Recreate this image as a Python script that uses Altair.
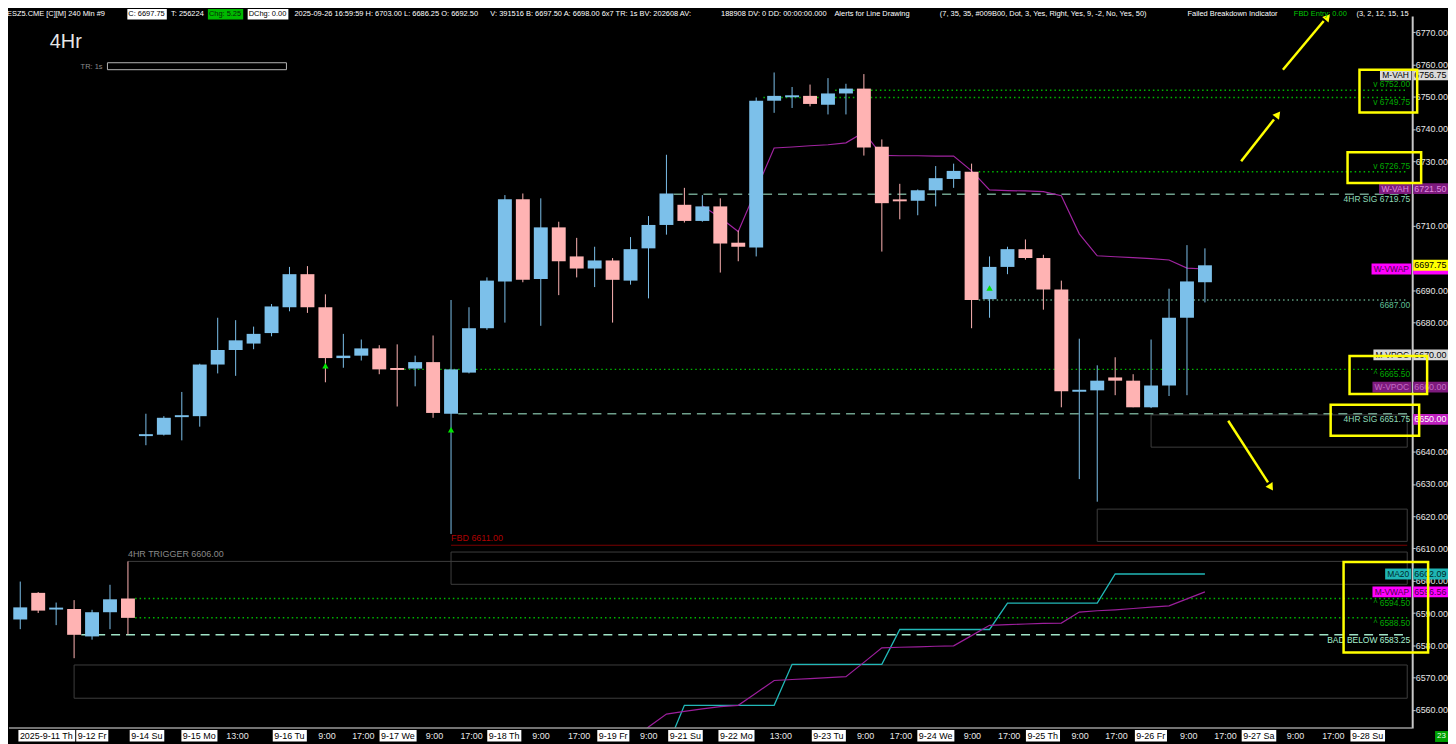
import altair as alt
import numpy as np
import pandas as pd

# ---------------- candle data (4-hour bars, index 0 = first bar on screen) ----------------
OPEN = [6588.0, 6596.25, 6591.25, 6591.25, 6582.75, 6590.25, 6594.5,
        6645.0, 6645.25, 6650.75, 6651.0, 6667.0, 6671.5, 6673.5, 6676.75, 6684.75, 6695.0,
        6684.75, 6669.0, 6669.75, 6672.0, 6665.75, 6665.75, 6667.75, 6651.75, 6664.5, 6678.25,
        6692.75, 6718.25, 6693.5, 6709.5, 6700.5, 6696.75, 6699.25, 6693.0, 6703.0, 6710.25,
        6716.5, 6711.5, 6716.0, 6704.75, 6703.25, 6748.75, 6750.0, 6750.25, 6747.5, 6751.0,
        6752.5, 6734.5, 6718.0, 6717.75, 6721.0, 6724.5, 6726.75, 6687.25, 6697.25, 6702.75,
        6700.0, 6690.25, 6658.75, 6659.0, 6663.0, 6662.0, 6653.75, 6660.5, 6681.5, 6692.5]
HIGH = [6599.75, 6596.5, 6593.25, 6594.0, 6591.0, 6598.75, 6606.0,
        6651.75, 6651.0, 6658.5, 6667.25, 6681.5, 6680.75, 6678.75, 6685.75, 6697.25, 6697.5,
        6688.75, 6676.5, 6674.75, 6673.0, 6673.25, 6669.75, 6676.0, 6687.0, 6684.75, 6694.0,
        6719.5, 6720.0, 6718.5, 6711.25, 6706.25, 6703.5, 6700.0, 6706.5, 6713.0, 6732.0,
        6721.75, 6719.5, 6718.5, 6708.5, 6749.75, 6757.5, 6753.0, 6753.75, 6755.75, 6754.0,
        6757.0, 6736.75, 6723.0, 6721.25, 6728.5, 6729.25, 6729.25, 6700.5, 6703.5, 6705.75,
        6701.0, 6693.0, 6675.0, 6666.75, 6669.25, 6664.0, 6674.75, 6690.5, 6704.0, 6703.0]
LOW = [6585.0, 6590.0, 6586.25, 6576.0, 6581.75, 6585.0, 6583.25,
       6642.0, 6645.0, 6643.5, 6647.75, 6664.25, 6663.5, 6671.75, 6675.75, 6683.5, 6683.0,
       6661.5, 6666.0, 6668.25, 6664.0, 6654.0, 6660.25, 6650.5, 6614.5, 6664.25, 6677.75,
       6680.0, 6692.5, 6679.0, 6688.5, 6694.0, 6691.0, 6680.0, 6691.75, 6687.5, 6707.25,
       6711.0, 6711.25, 6695.5, 6699.0, 6700.5, 6745.0, 6746.5, 6747.0, 6744.5, 6744.5,
       6731.75, 6702.0, 6712.0, 6713.25, 6716.0, 6721.75, 6678.25, 6681.5, 6695.0, 6699.5,
       6684.0, 6653.75, 6631.5, 6624.5, 6657.5, 6653.75, 6653.5, 6657.25, 6657.5, 6686.25]
CLOSE = [6591.75, 6590.75, 6591.5, 6583.25, 6590.25, 6594.25, 6588.5,
         6645.25, 6650.5, 6651.25, 6667.0, 6671.5, 6674.5, 6676.5, 6685.0, 6695.0, 6684.75,
         6669.0, 6669.75, 6672.0, 6665.5, 6665.5, 6667.75, 6652.0, 6665.5, 6678.25, 6693.0,
         6718.25, 6693.25, 6709.5, 6699.0, 6696.75, 6699.25, 6693.25, 6702.75, 6710.25, 6720.0,
         6711.5, 6716.0, 6704.5, 6703.5, 6748.75, 6750.25, 6750.25, 6747.75, 6751.0, 6752.5,
         6734.25, 6717.0, 6717.75, 6721.0, 6724.75, 6727.0, 6687.0, 6697.25, 6702.75, 6700.0,
         6690.25, 6658.75, 6659.0, 6662.0, 6662.0, 6653.75, 6660.5, 6681.5, 6692.75, 6697.75]

# ---------------- study lines ----------------
WVWAP_START = 38
WVWAP = [6716.2, 6712.5, 6708.2, 6721.2, 6734.1, 6734.4, 6734.8, 6735.1, 6735.7, 6739.0,
         6731.8, 6731.7, 6731.7, 6731.6, 6731.6, 6727.0, 6721.1, 6720.9, 6720.8, 6720.6,
         6719.3, 6707.5, 6700.7, 6700.4, 6700.1, 6699.8, 6699.4, 6696.9, 6696.6]
MA20_START = 36
MA20 = [6548.0, 6561.4, 6561.4, 6561.4, 6561.4, 6561.4, 6561.4,
        6574.1, 6574.1, 6574.1, 6574.1, 6574.1, 6574.1,
        6584.9, 6584.9, 6584.9, 6584.9, 6584.9, 6584.9,
        6593.1, 6593.1, 6593.1, 6593.1, 6593.1, 6593.1,
        6602.09, 6602.09, 6602.09, 6602.09, 6602.09, 6602.09]
MVWAP_START = 34
MVWAP = [6549.0, 6554.7, 6558.7, 6559.5, 6560.3, 6561.0, 6561.4, 6565.2, 6569.1, 6569.4,
         6569.7, 6570.0, 6570.3, 6574.7, 6579.2, 6579.4, 6579.5, 6579.7, 6579.85, 6583.0,
         6586.2, 6586.4, 6586.6, 6586.8, 6586.9, 6590.3, 6590.7, 6591.0, 6591.4, 6591.8,
         6592.2, 6594.4, 6596.56]

SIGNAL_BAR = [17, 24, 54]
SIGNAL_PRICE = [6666.6, 6646.8, 6690.7]

# ---------------- horizontal levels ----------------
LEVEL_PRICE = [6752.00, 6749.75, 6726.75, 6719.75, 6687.00, 6665.50, 6651.75,
               6611.00, 6606.00, 6594.50, 6588.50, 6583.25]
LEVEL_FROM = [45.4, 41.4, 53.4, 36.4, 53.4, 21.4, 24.4, 24.0, 6.0, 6.4, 6.4, 3.4]
LEVEL_KIND = ["alert", "alert", "alert", "sig", "close", "alert", "sig",
              "fbd", "trigger", "alert", "alert", "bad"]

LABEL_TEXT = ["v 6752.00", "v 6749.75", "v 6726.75", "4HR SIG  6719.75", "6687.00",
              "^ 6665.50", "4HR SIG  6651.75", "^ 6594.50", "^ 6588.50", "BAD BELOW  6583.25"]
LABEL_PRICE = [6752.00, 6749.75, 6726.75, 6719.75, 6687.00, 6665.50, 6651.75,
               6594.50, 6588.50, 6583.25]
LABEL_SIDE = ["above", "below", "above", "below", "below", "below", "below",
              "below", "below", "below"]
LABEL_KIND = ["alert", "alert", "alert", "sig", "close", "alert", "sig", "alert", "alert", "bad"]

ZONE_FROM = [24, 3, 63, 60]
ZONE_TOP = [6608.9, 6573.9, 6651.4, 6622.2]
ZONE_BOTTOM = [6598.9, 6563.6, 6641.4, 6612.2]

TAG_NAME = ["M-VAH", "W-VAH", "W-VWAP", "M-VPOC", "W-VPOC", "", "MA20", "M-VWAP", ""]
TAG_PRICE = [6756.75, 6721.50, 6696.59, 6670.00, 6660.00, 6650.00, 6602.09, 6596.56, 6697.75]
TAG_VALUE = ["6756.75", "6721.50", "", "6670.00", "6660.00", "6650.00",
             "6602.09", "6596.56", "6697.75"]
TAG_KIND = ["mvah", "wvah", "wvwap", "mvpoc", "wvpoc", "wval", "ma20", "mvwap", "last"]

# axis ticks (values hidden behind the coloured price tags are left out)
Y_TICKS = [6560, 6570, 6580, 6590, 6600, 6610, 6620, 6630, 6640,
           6680, 6690, 6710, 6730, 6740, 6750, 6760, 6770]

XT_LABEL = ["2025-9-11 Th", "9-12 Fr", "9-14 Su", "9-15 Mo", "13:00", "9-16 Tu", "9:00", "17:00",
            "9-17 We", "9:00", "17:00", "9-18 Th", "9:00", "17:00", "9-19 Fr", "9:00", "9-21 Su",
            "9-22 Mo", "13:00", "9-23 Tu", "9:00", "17:00", "9-24 We", "9:00", "17:00", "9-25 Th",
            "9:00", "17:00", "9-26 Fr", "9:00", "17:00", "9-27 Sa", "9:00", "17:00", "9-28 Su"]
XT_POS = [-0.02, 3.2, 6.18, 9.06, 11.48, 14.15, 16.6, 18.49, 20.1, 22.59, 24.52, 26.1, 28.53,
          30.51, 32.23, 34.53, 36.18, 38.98, 41.75, 44.18, 46.61, 48.44, 50.06, 52.56, 54.47,
          56.11, 58.56, 60.45, 62.18, 64.61, 66.52, 68.13, 70.56, 72.53, 74.19]

HEADER_TEXT = ["ESZ5.CME [C][M]  240 Min  #9", "C: 6697.75", "T: 256224", "Chg: 5.25", "DChg: 0.00",
               "2025-09-26 16:59:59 H: 6703.00 L: 6686.25 O: 6692.50",
               "V: 391516 B: 6697.50 A: 6698.00 6x7 TR: 1s BV: 202608 AV:",
               "188908 DV: 0 DD: 00:00:00.000", "Alerts for Line Drawing",
               "(7, 35, 35, #009B00, Dot, 3, Yes, Right, Yes, 9, -2, No, Yes, 50)",
               "Failed Breakdown Indicator", "FBD Entry: 0.00", "(3, 2, 12, 15, 15"]
HEADER_KIND = ["plain", "white", "plain", "green", "white", "plain", "plain", "plain", "plain",
               "plain", "plain", "gtext", "plain"]

# ---------------- layout (pixels in plot coordinates) ----------------
W, H = 1411, 716
X_MIN, X_MAX = -0.35, 77.27
Y_MIN, Y_MAX = 6554.36, 6775.0
PXB = W / (X_MAX - X_MIN)
SANS = "Liberation Sans, Arial, sans-serif"
BLUE, PINK = "#7cc0ea", "#ffb3b3"

_CW = {c: 0.556 for c in "0123456789#$"}
_CW.update({" ": 0.278, "-": 0.333, ":": 0.278, ".": 0.278, ",": 0.278, "(": 0.333, ")": 0.333,
            "[": 0.278, "]": 0.278, "^": 0.469})
_CW.update(dict(zip("ABCDEFGHIJKLMNOPQRSTUVWXYZ",
                    [.667, .667, .722, .722, .667, .611, .778, .722, .278, .5, .667, .556, .833, .722,
                     .778, .667, .778, .722, .667, .611, .722, .667, .944, .667, .667, .611])))
_CW.update(dict(zip("abcdefghijklmnopqrstuvwxyz",
                    [.556, .556, .5, .556, .556, .278, .556, .556, .222, .222, .5, .222, .833, .556,
                     .556, .556, .556, .333, .5, .278, .556, .5, .722, .5, .5, .5])))


def text_w(s, size):
    return sum(_CW.get(ch, 0.556) for ch in s) * size


xs = alt.Scale(domain=[X_MIN, X_MAX], nice=False, zero=False)
ys = alt.Scale(domain=[Y_MIN, Y_MAX], nice=False, zero=False)
yaxis = alt.Axis(orient="right", values=Y_TICKS, format=".2f", title=None, grid=False,
                 labelColor="#e6e6e6", labelFont=SANS, labelFontSize=9, labelPadding=0,
                 tickColor="#c8c8c8", tickSize=3, domainColor="#c8c8c8", domainWidth=2)


def X(f):
    return alt.X(f, type="quantitative", scale=xs, axis=None, title=None)


def Y(f):
    return alt.Y(f, type="quantitative", scale=ys, axis=yaxis, title=None)


def PX(f):
    return alt.X(f, type="quantitative", scale=None, axis=None)


def PY(f):
    return alt.Y(f, type="quantitative", scale=None, axis=None)


layers = []

# zones
zdf = pd.DataFrame({"f": ZONE_FROM, "t": ZONE_TOP, "b": ZONE_BOTTOM})
zdf["to"] = X_MAX
layers.append(alt.Chart(zdf).mark_rect(filled=False, stroke="#3d3d3d", strokeWidth=1).encode(
    x=X("f"), x2=alt.X2("to"), y=Y("t"), y2=alt.Y2("b")))

# level lines
ldf = pd.DataFrame({"p": LEVEL_PRICE, "f": LEVEL_FROM, "k": LEVEL_KIND})
ldf["to"] = X_MAX
LEVEL_STYLE = {
    "alert": ("#00b400", [1.5, 3], 1.5),
    "close": ("#5e9e80", [1.5, 3], 1.5),
    "sig": ("#6fa08c", [9, 6], 1.5),
    "bad": ("#9fe3c6", [9, 6], 1.5),
    "fbd": ("#7a0000", None, 1),
    "trigger": ("#3d3d3d", None, 1),
}
for k, (col, dash, w) in LEVEL_STYLE.items():
    kw = dict(color=col, strokeWidth=w)
    if dash:
        kw["strokeDash"] = dash
    layers.append(alt.Chart(ldf[ldf.k == k]).mark_rule(**kw).encode(
        x=X("f"), x2=alt.X2("to"), y=Y("p")))


def series(start, vals):
    return pd.DataFrame({"i": list(range(start, start + len(vals))), "v": vals})


layers.append(alt.Chart(series(MA20_START, MA20)).mark_line(color="#22b8b8", strokeWidth=1.3, clip=True)
              .encode(x=X("i"), y=Y("v")))
layers.append(alt.Chart(series(MVWAP_START, MVWAP)).mark_line(color="#9c1f9c", strokeWidth=1.2, clip=True)
              .encode(x=X("i"), y=Y("v")))
layers.append(alt.Chart(series(WVWAP_START, WVWAP)).mark_line(color="#a024a0", strokeWidth=1.2, clip=True)
              .encode(x=X("i"), y=Y("v")))

# candles
cdf = pd.DataFrame({"i": list(range(len(OPEN))), "o": OPEN, "h": HIGH, "l": LOW, "c": CLOSE})
cdf["top"] = cdf[["o", "c"]].max(axis=1)
cdf["bot"] = cdf[["o", "c"]].min(axis=1)
small = (cdf["top"] - cdf["bot"]) < 0.6
mid = (cdf["top"] + cdf["bot"]) / 2
cdf.loc[small, "top"] = mid[small] + 0.3
cdf.loc[small, "bot"] = mid[small] - 0.3
cdf["dir"] = np.where(cdf.c > cdf.o, "up", np.where(cdf.c < cdf.o, "down", "flat"))
ccol = alt.Color("dir:N", scale=alt.Scale(domain=["up", "down", "flat"], range=[BLUE, PINK, "#dddddd"]),
                 legend=None)
layers.append(alt.Chart(cdf).mark_rule(strokeWidth=1).encode(x=X("i"), y=Y("l"), y2=alt.Y2("h"), color=ccol))
layers.append(alt.Chart(cdf).mark_bar(size=14).encode(x=X("i"), y=Y("bot"), y2=alt.Y2("top"), color=ccol))

# signal triangles
sdf = pd.DataFrame({"i": SIGNAL_BAR, "p": SIGNAL_PRICE})
layers.append(alt.Chart(sdf).mark_point(shape="triangle-up", filled=True, size=40, color="#00e600", opacity=1)
              .encode(x=X("i"), y=Y("p")))

# level texts
tdf = pd.DataFrame({"t": LABEL_TEXT, "p": LABEL_PRICE, "s": LABEL_SIDE, "k": LABEL_KIND})
TEXT_COLOR = {"alert": "#00a800", "sig": "#8fdcb8", "close": "#5fbf95", "bad": "#a8f0d0"}
tdf["col"] = tdf.k.map(TEXT_COLOR)
for side, base, dy in (("above", "bottom", -1), ("below", "top", 1)):
    layers.append(alt.Chart(tdf[tdf.s == side]).mark_text(
        align="right", baseline=base, dy=dy, fontSize=8.5, font=SANS).encode(
        x=alt.value(1409), y=Y("p"), text="t:N", color=alt.Color("col:N", scale=None)))

ann = pd.DataFrame({"t": ["FBD  6611.00", "4HR TRIGGER  6606.00"], "i": [24, 6], "p": [6611.0, 6606.0],
                    "col": ["#b00000", "#8a8a8a"]})
layers.append(alt.Chart(ann).mark_text(align="left", baseline="bottom", dy=-2, fontSize=9, font=SANS)
              .encode(x=X("i"), y=Y("p"), text="t:N", color=alt.Color("col:N", scale=None)))

# right tags
TAG_STYLE = {
    "mvah": ("#d9d9d9", "#000000"), "wvah": ("#7d1a7d", "#e08ae0"), "wvwap": ("#ff00ff", "#4a004a"),
    "mvpoc": ("#d9d9d9", "#000000"), "wvpoc": ("#7d1a7d", "#c46ac4"), "wval": ("#c020c0", "#ffffff"),
    "ma20": ("#1fb5b5", "#002a2a"), "mvwap": ("#ff00ff", "#4a004a"), "last": ("#ffff00", "#000000"),
}
gdf = pd.DataFrame({"n": TAG_NAME, "p": TAG_PRICE, "v": TAG_VALUE, "k": TAG_KIND})
gdf["bg"] = gdf.k.map(lambda k: TAG_STYLE[k][0])
gdf["fg"] = gdf.k.map(lambda k: TAG_STYLE[k][1])
gdf["nx2"] = 1410.0
gdf["nx1"] = 1410.0 - gdf.n.map(lambda s: text_w(s, 8.5) + 4)
gdf["nxc"] = (gdf.nx1 + gdf.nx2) / 2
named = gdf[gdf.n != ""]
layers.append(alt.Chart(named).mark_rect(yOffset=-5.5, y2Offset=5.5).encode(
    x=PX("nx1"), x2=alt.X2("nx2"), y=Y("p"), y2=alt.Y2("p"), color=alt.Color("bg:N", scale=None)))
layers.append(alt.Chart(named).mark_text(fontSize=8.5, font=SANS, baseline="middle").encode(
    x=PX("nxc"), y=Y("p"), text="n:N", color=alt.Color("fg:N", scale=None)))
for _, row in gdf.iterrows():
    one = pd.DataFrame([row])
    layers.append(alt.Chart(one).mark_rect(yOffset=-5.5, y2Offset=5.5, color=row["bg"]).encode(
        x=alt.value(1412), x2=alt.value(1447), y=Y("p"), y2=alt.Y2("p")))
    if row["v"]:
        layers.append(alt.Chart(one).mark_text(fontSize=9, font=SANS, baseline="middle", align="left",
                                               color=row["fg"]).encode(
            x=alt.value(1413), y=Y("p"), text="v:N"))

# yellow hand-drawn highlight boxes and arrows
ybox = pd.DataFrame({"x1": [1358, 1346, 1348, 1329, 1342], "x2": [1416, 1420, 1426, 1418, 1427],
                     "y1": [54, 137, 342, 391, 549], "y2": [97, 168, 380, 422, 640]})
layers.append(alt.Chart(ybox).mark_rect(filled=False, stroke="#ffff00", strokeWidth=2.5).encode(
    x=PX("x1"), x2=alt.X2("x2"), y=PY("y1"), y2=alt.Y2("y2")))
arr = pd.DataFrame({"x1": [1281, 1239, 1226], "y1": [54, 146, 407], "x2": [1322, 1272, 1266],
                    "y2": [5, 104, 469], "hx": [1326, 1276, 1269], "hy": [1, 99, 474], "a": [40, 38, 147]})
layers.append(alt.Chart(arr).mark_rule(color="#ffff00", strokeWidth=2.5).encode(
    x=PX("x1"), x2=alt.X2("x2"), y=PY("y1"), y2=alt.Y2("y2")))
layers.append(alt.Chart(arr).mark_point(shape="triangle-up", filled=True, size=70, color="#ffff00", opacity=1)
              .encode(x=PX("hx"), y=PY("hy"), angle=alt.Angle("a:Q", scale=None)))

# header line
HFS = 7.5
hdf = pd.DataFrame({"t": HEADER_TEXT, "k": HEADER_KIND,
                    "x": [-2, 120, 163, 201, 241, 287, 484, 716, 830, 936, 1185, 1292, 1355]})
hdf["x2"] = hdf.x + hdf.t.map(lambda s: text_w(s, HFS)) + 2
HBG = {"white": "#ffffff", "green": "#00b800"}
HFG = {"plain": "#ffffff", "white": "#000000", "green": "#062806", "gtext": "#00c800"}
hdf["fg"] = hdf.k.map(HFG)
boxes = hdf[hdf.k.isin(["white", "green"])].copy()
boxes["bg"] = boxes.k.map(HBG)
boxes["x"] = boxes.x - 1
layers.append(alt.Chart(boxes).mark_rect().encode(
    x=PX("x"), x2=alt.X2("x2"), y=alt.value(-7), y2=alt.value(3.5), color=alt.Color("bg:N", scale=None)))
layers.append(alt.Chart(hdf).mark_text(align="left", baseline="middle", fontSize=HFS, font=SANS).encode(
    x=PX("x"), y=alt.value(-1.5), text="t:N", color=alt.Color("fg:N", scale=None)))

# chart title and TR box
layers.append(alt.Chart(pd.DataFrame({"t": ["4Hr"]})).mark_text(
    align="left", baseline="middle", fontSize=20, font=SANS, color="#e6e6e6").encode(
    x=alt.value(41), y=alt.value(26), text="t:N"))
layers.append(alt.Chart(pd.DataFrame({"t": ["TR: 1s"]})).mark_text(
    align="left", baseline="middle", fontSize=7.5, font=SANS, color="#8c8c8c").encode(
    x=alt.value(72), y=alt.value(51), text="t:N"))
layers.append(alt.Chart(pd.DataFrame({"t": ["TR"]})).mark_rect(filled=False, stroke="#b4b4b4", strokeWidth=1)
              .encode(x=alt.value(99), x2=alt.value(279), y=alt.value(47), y2=alt.value(54)))

# bottom axis line and time labels
layers.append(alt.Chart(pd.DataFrame({"t": ["axis"]})).mark_rule(color="#9a9a9a", strokeWidth=1.5).encode(
    x=alt.value(0), x2=alt.value(W), y=alt.value(H)))
XFS = 9
xl = pd.DataFrame({"t": XT_LABEL, "p": XT_POS})
xl["date"] = xl.t.str.contains("-")
xl["p1"] = xl.p - 1.5 / PXB
xl["p2"] = xl.p + xl.t.map(lambda s: text_w(s, XFS) + 2) / PXB
xl["fg"] = np.where(xl.date, "#000000", "#e8e8e8")
layers.append(alt.Chart(xl[xl.date]).mark_rect(color="#ffffff").encode(
    x=X("p1"), x2=alt.X2("p2"), y=alt.value(718), y2=alt.value(729.5)))
layers.append(alt.Chart(xl).mark_text(align="left", baseline="middle", fontSize=XFS, font=SANS).encode(
    x=X("p"), y=alt.value(724), text="t:N", color=alt.Color("fg:N", scale=None)))
layers.append(alt.Chart(pd.DataFrame({"t": ["23"]})).mark_rect(color="#00a000").encode(
    x=alt.value(1434), x2=alt.value(1447), y=alt.value(719), y2=alt.value(730)))
layers.append(alt.Chart(pd.DataFrame({"t": ["23"]})).mark_text(
    align="center", baseline="middle", fontSize=8, font=SANS, color="#e8ffe8").encode(
    x=alt.value(1440.5), y=alt.value(724.5), text="t:N"))

chart = alt.layer(*layers).properties(
    width=W, height=H,
    padding={"left": 1, "top": 6, "right": 36, "bottom": 14},
    autosize=alt.AutoSizeParams(type="none"),
    background="#000000",
).configure_view(stroke=None)

chart.save("out.html", embed_options={"renderer": "svg", "actions": False})
